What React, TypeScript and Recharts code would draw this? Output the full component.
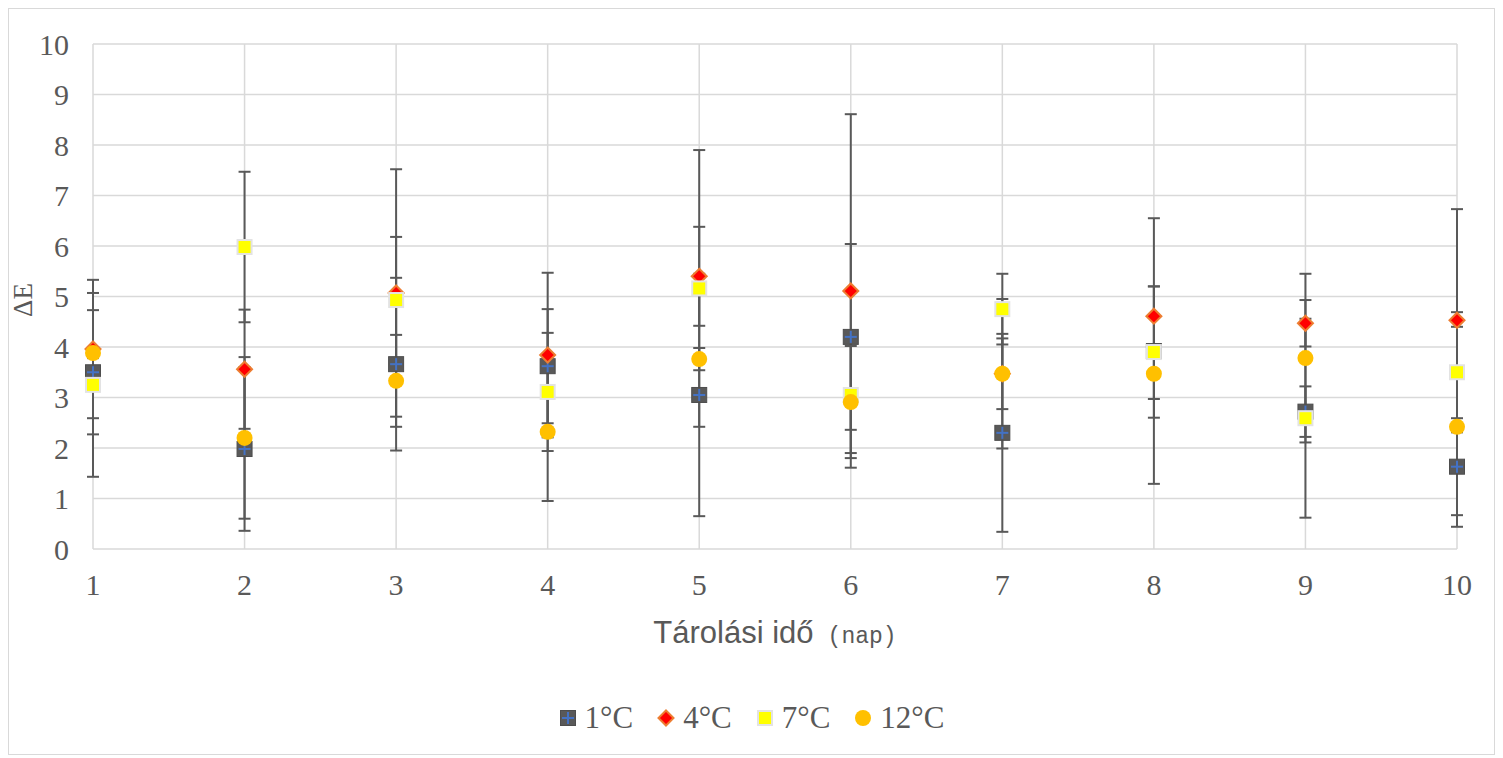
import React from 'react';
import { ScatterChart, Scatter, XAxis, YAxis, CartesianGrid, ErrorBar, Legend } from 'recharts';

const days = [1, 2, 3, 4, 5, 6, 7, 8, 9, 10];
const yTicks = [0, 1, 2, 3, 4, 5, 6, 7, 8, 9, 10];

// mean ΔE per storage day, and the error (± value) for each temperature
const t1 = [3.5, 1.98, 3.66, 3.62, 3.05, 4.2, 2.3, 3.92, 2.72, 1.63];
const t1Err = [1.23, 1.62, 1.71, 1.13, 2.4, 1.84, 1.96, 2.63, 0.5, 0.96];
const t4 = [3.96, 3.56, 5.07, 3.84, 5.4, 5.11, 3.47, 4.61, 4.47, 4.53];
const t4Err = [1.37, 1.18, 2.45, 1.63, 0.98, 3.5, 1.48, 0.59, 0.46, 2.2];
const t7 = [3.25, 5.98, 4.93, 3.11, 5.16, 3.05, 4.75, 3.9, 2.59, 3.5];
const t7Err = [1.82, 1.49, 1.25, 1.17, 2.74, 1.15, 0.7, 1.3, 1.97, 1.19];
const t12 = [3.88, 2.2, 3.33, 2.32, 3.76, 2.91, 3.47, 3.47, 3.78, 2.42];
const t12Err = [0.1, 1.6, 0.91, 1.37, 0.22, 1.11, 0.7, 0.5, 1.67, 1.98];

const labels = ['1°C', '4°C', '7°C', '12°C'];

const toRows = (vals: number[], errs: number[]) =>
  days.map((d, i) => ({ day: d, value: vals[i], err: errs[i] }));

const series = [toRows(t1, t1Err), toRows(t4, t4Err), toRows(t7, t7Err), toRows(t12, t12Err)];

const GRID = '#D9D9D9';
const TEXT = '#595959';

const SquarePlus = ({ cx, cy }: any) => (
  <g>
    <rect x={cx - 7.5} y={cy - 7.5} width={15} height={15} fill="#595959" stroke="#4d4d4d" strokeWidth={1} />
    <line x1={cx - 6} x2={cx + 6} y1={cy} y2={cy} stroke="#4472C4" strokeWidth={2} />
    <line x1={cx} x2={cx} y1={cy - 6} y2={cy + 6} stroke="#4472C4" strokeWidth={2} />
  </g>
);

const Diamond = ({ cx, cy }: any) => (
  <polygon
    points={`${cx},${cy - 7.5} ${cx + 7.5},${cy} ${cx},${cy + 7.5} ${cx - 7.5},${cy}`}
    fill="#FF0000"
    stroke="#ED7D31"
    strokeWidth={2}
  />
);

const YellowSquare = ({ cx, cy }: any) => (
  <rect x={cx - 7} y={cy - 7} width={14} height={14} fill="#FFFF00" stroke="#E3E3E3" strokeWidth={2} />
);

const Dot = ({ cx, cy }: any) => <circle cx={cx} cy={cy} r={8} fill="#FFC000" />;

const shapes = [SquarePlus, Diamond, YellowSquare, Dot];

const Nothing = () => <g />;

const LegendBox = () => (
  <div
    style={{
      display: 'flex',
      justifyContent: 'center',
      alignItems: 'center',
      fontFamily: '"Liberation Serif", serif',
      fontSize: 31,
      color: TEXT,
      lineHeight: '34px',
    }}
  >
    {labels.map((l, i) => {
      const Shape = shapes[i];
      return (
        <div key={l} style={{ display: 'flex', alignItems: 'center', marginRight: i < 3 ? 24 : 0 }}>
          <svg width={18} height={18} style={{ marginRight: 8 }}>
            <Shape cx={9} cy={9} />
          </svg>
          <span>{l}</span>
        </div>
      );
    })}
  </div>
);

const XTitle = ({ viewBox }: any) => {
  const cx = viewBox.x + viewBox.width / 2;
  return (
    <text x={cx} y={634} textAnchor="middle" fill={TEXT}>
      <tspan fontFamily='"Liberation Sans", Arial, sans-serif' fontSize={31}>Tárolási idő</tspan>
      <tspan dx={14} fontFamily='"Liberation Mono", monospace' fontSize={23}>(nap)</tspan>
    </text>
  );
};

const YTitle = () => (
  <text
    x={14}
    y={291}
    transform="rotate(-90 14 291)"
    textAnchor="middle"
    dominantBaseline="central"
    fill={TEXT}
    fontFamily='"Liberation Serif", serif'
    fontSize={27}
  >
    ΔE
  </text>
);

export default function App() {
  return (
    <div style={{ width: 1487, height: 747, border: `1px solid ${GRID}`, boxSizing: 'border-box', background: '#fff' }}>
      <ScatterChart width={1485} height={745} margin={{ top: 35, right: 37, bottom: 0, left: 0 }}>
        <CartesianGrid stroke={GRID} strokeWidth={1.5} />
        <XAxis
          type="number"
          dataKey="day"
          domain={[1, 10]}
          ticks={days}
          height={205}
          axisLine={false}
          tickLine={false}
          tickSize={0}
          tickMargin={25}
          tick={{ fill: TEXT, fontSize: 30, fontFamily: '"Liberation Serif", serif' }}
          label={<XTitle />}
        />
        <YAxis
          type="number"
          dataKey="value"
          domain={[0, 10]}
          ticks={yTicks}
          width={84}
          axisLine={false}
          tickLine={false}
          tickSize={0}
          tickMargin={24}
          tick={{ fill: TEXT, fontSize: 30, fontFamily: '"Liberation Serif", serif' }}
          label={<YTitle />}
        />
        {series.map((rows, i) => (
          <Scatter key={`err-${i}`} data={rows} shape={<Nothing />} legendType="none" isAnimationActive={false}>
            <ErrorBar dataKey="err" direction="y" width={6} stroke="#595959" strokeWidth={2} />
          </Scatter>
        ))}
        {series.map((rows, i) => {
          const Shape = shapes[i];
          return (
            <Scatter
              key={`pts-${i}`}
              name={labels[i]}
              data={rows}
              shape={(p: any) => <Shape cx={p.cx} cy={p.cy} />}
              isAnimationActive={false}
            />
          );
        })}
        <Legend
          layout="horizontal"
          verticalAlign="middle"
          align="center"
          content={<LegendBox />}
          wrapperStyle={{ top: 692, left: 0, width: 1485 }}
        />
      </ScatterChart>
    </div>
  );
}
